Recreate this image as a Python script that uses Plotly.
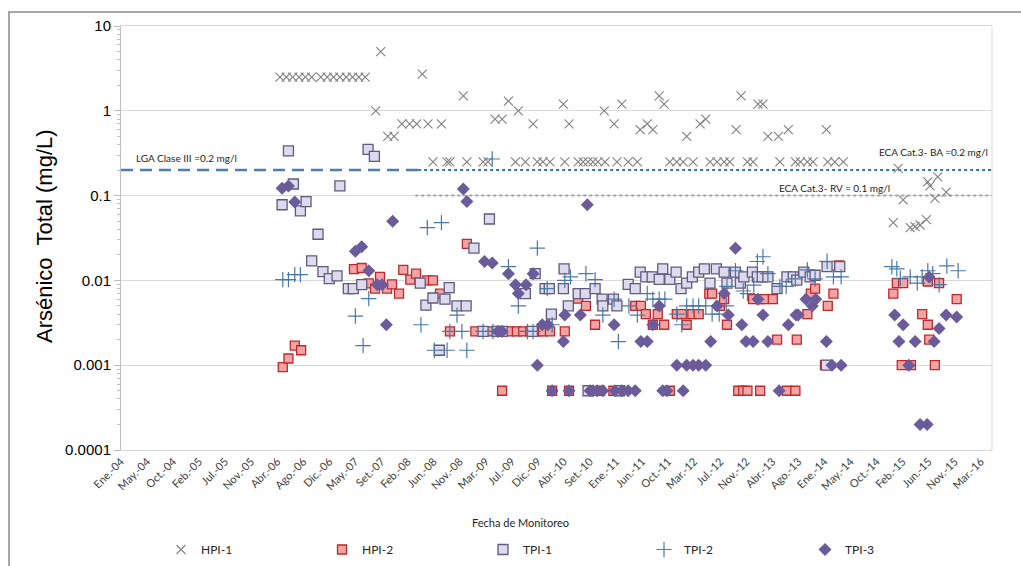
import pandas as pd
import plotly.graph_objects as go

# ---------------- data (dates as decimal years, values in mg/L) ----------------
hpi1_x = [2006.29, 2006.38, 2006.47, 2006.56, 2006.65, 2006.74, 2006.87, 2006.96, 2007.05, 2007.14,
          2007.23, 2007.32, 2007.41, 2007.50,
          2007.72, 2007.65, 2007.82, 2007.91,
          2008.02, 2008.13, 2008.23, 2008.39, 2008.58, 2008.31,
          2008.46, 2008.66, 2008.70, 2008.94, 2009.17, 2009.24, 2009.63, 2009.77, 2009.94, 2010.02,
          2010.12, 2010.33, 2010.52, 2010.59, 2010.66, 2010.73, 2010.80, 2010.90, 2011.07, 2011.23,
          2011.36, 2011.82, 2011.92, 2012.01, 2012.15, 2012.39, 2012.49, 2012.59, 2012.67, 2012.92,
          2013.00, 2013.38, 2013.60, 2013.67, 2013.77, 2013.85, 2014.06, 2014.16, 2014.28,
          2008.89, 2009.53, 2009.67, 2009.34, 2009.44, 2009.88, 2010.31, 2010.39, 2010.89, 2011.14,
          2011.03, 2011.40, 2011.50, 2011.58, 2011.67, 2011.74, 2012.06, 2012.25, 2012.33, 2012.76,
          2012.83, 2013.07, 2013.14, 2013.21, 2013.36, 2013.50, 2014.04,
          2014.99, 2015.06, 2015.13, 2015.23, 2015.30, 2015.37, 2015.46, 2015.48, 2015.51, 2015.58,
          2015.62, 2015.74]
hpi1_y = [2.5] * 14 + [5.0, 1.0, 0.5, 0.5,
          0.7, 0.7, 0.7, 0.7, 0.7, 2.7] + [0.25] * 39 + [
          1.5, 1.3, 1.0, 0.8, 0.8, 0.7, 1.2, 0.7, 1.0, 1.2,
          0.7, 0.6, 0.7, 0.6, 1.5, 1.2, 0.5, 0.7, 0.8, 0.6,
          1.5, 1.2, 1.2, 0.5, 0.5, 0.6, 0.6,
          0.048, 0.21, 0.089, 0.042, 0.043, 0.045, 0.052, 0.145, 0.13, 0.093,
          0.166, 0.11]

hpi2_x = [2006.33, 2006.41, 2006.50, 2006.59, 2007.34, 2007.45, 2007.55, 2007.64, 2007.71, 2007.81,
          2007.88, 2007.98, 2008.04, 2008.14, 2008.22, 2008.38, 2008.46, 2008.56, 2008.94,
          2008.70, 2009.06, 2009.17, 2009.27, 2009.37, 2009.45, 2009.55, 2009.65, 2009.74, 2009.84,
          2009.94, 2010.02, 2010.12, 2010.33,
          2009.44, 2010.15, 2010.39, 2010.52, 2010.63, 2010.76, 2010.83, 2011.02,
          2011.33, 2011.41, 2011.48, 2011.58, 2011.65, 2011.74, 2011.82, 2011.92, 2011.99, 2012.06,
          2012.14, 2012.23, 2012.38, 2012.42, 2012.53, 2012.59, 2012.63, 2012.79, 2012.86, 2012.92,
          2013.00, 2013.10, 2013.16, 2013.10, 2013.28, 2013.34, 2013.48, 2013.60, 2013.62, 2013.77,
          2013.82, 2013.88, 2014.02, 2014.06, 2014.14, 2014.22,
          2014.99, 2015.04, 2015.13, 2015.11, 2015.24, 2015.40, 2015.48, 2015.48, 2015.50, 2015.58,
          2015.64, 2015.89]
hpi2_y = [0.00095, 0.0012, 0.0017, 0.0015, 0.0136, 0.014, 0.0092, 0.008, 0.011, 0.008,
          0.009, 0.007, 0.0133, 0.0102, 0.012, 0.01, 0.01, 0.007, 0.027] + [0.0025] * 14 + [
          0.0005, 0.0005, 0.0005, 0.0061, 0.005, 0.003, 0.0005, 0.0005,
          0.005, 0.005, 0.004, 0.003, 0.004, 0.003, 0.0005, 0.004, 0.004, 0.003,
          0.004, 0.004, 0.007, 0.007, 0.005, 0.006, 0.003, 0.0005, 0.0005, 0.0005,
          0.006, 0.006, 0.006, 0.0005, 0.006, 0.002, 0.0005, 0.0005, 0.002, 0.004,
          0.007, 0.008, 0.001, 0.005, 0.007, 0.015,
          0.007, 0.0093, 0.0093, 0.001, 0.001, 0.004, 0.0097, 0.003, 0.002, 0.001,
          0.0093, 0.006]

tpi1_x = [2006.32, 2006.41, 2006.48, 2006.58, 2006.66, 2006.74, 2006.83, 2006.90, 2006.99, 2007.10,
          2007.14, 2007.26, 2007.33, 2007.45, 2007.54, 2007.63, 2008.28, 2008.36, 2008.46, 2008.55,
          2008.63, 2008.69, 2008.80, 2008.93, 2009.04, 2009.26, 2009.17, 2009.37, 2009.44, 2009.87,
          2009.91, 2009.77, 2010.05, 2010.11, 2010.14, 2010.31, 2010.32, 2010.38, 2010.52, 2010.62,
          2010.76, 2010.66, 2010.86, 2011.02, 2010.87, 2011.07, 2011.11, 2011.23, 2011.33, 2011.40,
          2011.48, 2011.57, 2011.67, 2011.72, 2011.82, 2011.91, 2011.98, 2012.06, 2012.14, 2012.23,
          2012.31, 2012.39, 2012.48, 2012.59, 2012.63, 2012.75, 2012.82, 2012.87, 2012.99, 2013.06,
          2013.13, 2013.21, 2013.34, 2013.48, 2013.57, 2013.62, 2013.72, 2013.81, 2013.88, 2014.04,
          2014.05, 2014.23]
tpi1_y = [0.078, 0.336, 0.137, 0.066, 0.085, 0.017, 0.035, 0.0127, 0.0105, 0.0113,
          0.13, 0.008, 0.008, 0.0089, 0.35, 0.29, 0.0093, 0.0051, 0.0062, 0.0015,
          0.006, 0.0082, 0.005, 0.005, 0.024, 0.053, 0.0025, 0.0025, 0.0025, 0.0025,
          0.012, 0.007, 0.008, 0.008, 0.004, 0.008, 0.0137, 0.005, 0.007, 0.007,
          0.008, 0.0005, 0.006, 0.006, 0.005, 0.005, 0.0005, 0.009, 0.008, 0.0125,
          0.011, 0.011, 0.0103, 0.0137, 0.0103, 0.0125, 0.008, 0.0093, 0.011, 0.0125,
          0.0137, 0.0093, 0.0137, 0.0125, 0.0093, 0.0125, 0.0093, 0.011, 0.0125, 0.011,
          0.011, 0.011, 0.008, 0.011, 0.011, 0.0101, 0.0125, 0.011, 0.0115, 0.001,
          0.0145, 0.0145]

tpi2_x = [2006.33, 2006.41, 2006.50, 2006.58, 2007.36, 2007.47, 2007.55, 2008.29, 2008.38, 2008.58,
          2008.48, 2008.66, 2008.70, 2008.80, 2008.87, 2008.94, 2009.17, 2009.30, 2009.31, 2009.53,
          2009.67, 2009.80, 2009.88, 2009.94, 2010.08, 2010.15, 2010.33, 2010.41, 2010.63, 2010.76,
          2010.87, 2011.03, 2011.09, 2011.24, 2011.36, 2011.50, 2011.58, 2011.67, 2011.75, 2011.92,
          2011.99, 2012.06, 2012.15, 2012.23, 2012.33, 2012.42, 2012.52, 2012.62, 2012.63, 2012.75,
          2012.86, 2012.92, 2013.01, 2013.06, 2013.14, 2013.21, 2013.38, 2013.47, 2013.60, 2013.77,
          2013.88, 2014.05, 2014.14, 2014.25,
          2014.97, 2015.04, 2015.09, 2015.23, 2015.33, 2015.40, 2015.48, 2015.55, 2015.64, 2015.75,
          2015.91]
tpi2_y = [0.0102, 0.0102, 0.0117, 0.0117, 0.0038, 0.0017, 0.0061, 0.003, 0.042, 0.048,
          0.0015, 0.0015, 0.0025, 0.0039, 0.0025, 0.0015, 0.0025, 0.27, 0.0025, 0.0145,
          0.005, 0.0025, 0.0025, 0.024, 0.008, 0.003, 0.01, 0.011, 0.012, 0.0102,
          0.0039, 0.006, 0.0019, 0.005, 0.0039, 0.007, 0.006, 0.006, 0.006, 0.004,
          0.003, 0.005, 0.005, 0.005, 0.005, 0.004, 0.004, 0.005, 0.0085, 0.013,
          0.0075, 0.007, 0.0088, 0.0167, 0.019, 0.012, 0.0085, 0.0085, 0.0104, 0.0133,
          0.0104, 0.0168, 0.011, 0.011,
          0.0145, 0.0137, 0.0106, 0.011, 0.0093, 0.011, 0.013, 0.012, 0.0089, 0.0148,
          0.013]

tpi3_x = [2006.32, 2006.41, 2006.50, 2007.36, 2007.45, 2007.55, 2007.67, 2007.74, 2007.80, 2007.89,
          2008.89, 2008.94, 2009.19, 2009.30, 2009.38, 2009.44, 2009.53, 2009.63, 2009.67, 2009.78,
          2009.88, 2009.94, 2010.01, 2010.09, 2010.15, 2010.31, 2010.33, 2010.39, 2010.55, 2010.65,
          2010.69, 2010.73, 2010.79, 2010.87, 2011.03, 2011.04, 2011.14, 2011.23, 2011.33, 2011.41,
          2011.50, 2011.58, 2011.67, 2011.72, 2011.78, 2011.92, 2012.01, 2012.06, 2012.15, 2012.23,
          2012.33, 2012.40, 2012.49, 2012.59, 2012.65, 2012.75, 2012.84, 2012.90, 2013.00, 2013.07,
          2013.14, 2013.21, 2013.37, 2013.50, 2013.61, 2013.64, 2013.75, 2013.84, 2013.89, 2014.04,
          2014.12, 2014.25,
          2015.01, 2015.07, 2015.13, 2015.21, 2015.30, 2015.37, 2015.47, 2015.50, 2015.57, 2015.64,
          2015.74, 2015.89]
tpi3_y = [0.122, 0.13, 0.084, 0.022, 0.025, 0.013, 0.0089, 0.0089, 0.003, 0.05,
          0.12, 0.085, 0.0167, 0.016, 0.0025, 0.0025, 0.012, 0.0089, 0.007, 0.0089,
          0.012, 0.001, 0.003, 0.003, 0.0005, 0.0019, 0.0039, 0.0005, 0.0039, 0.078,
          0.0005, 0.0005, 0.0005, 0.0005, 0.003, 0.0005, 0.0005, 0.0005, 0.0005, 0.0019,
          0.0019, 0.003, 0.005, 0.0005, 0.0005, 0.001, 0.0005, 0.001, 0.001, 0.001,
          0.001, 0.0019, 0.005, 0.007, 0.0039, 0.024, 0.003, 0.0019, 0.0019, 0.006,
          0.0039, 0.0019, 0.0005, 0.003, 0.0039, 0.0039, 0.006, 0.005, 0.006, 0.0019,
          0.001, 0.001,
          0.0039, 0.0019, 0.003, 0.001, 0.0019, 0.0002, 0.0002, 0.011, 0.0019, 0.0027,
          0.0039, 0.0037]

tick_labels = ["Ene.-04", "May.-04", "Oct.-04", "Feb.-05", "Jul.-05", "Nov.-05", "Abr.-06", "Ago.-06",
               "Dic.-06", "May.-07", "Set.-07", "Feb.-08", "Jun.-08", "Nov.-08", "Mar.-09", "Jul.-09",
               "Dic.-09", "Abr.-10", "Set.-10", "Ene.-11", "Jun.-11", "Oct.-11", "Mar.-12", "Jul.-12",
               "Nov.-12", "Abr.-13", "Ago.-13", "Ene.-14", "May.-14", "Oct.-14", "Feb.-15", "Jun.-15",
               "Nov.-15", "Mar.-16"]
y_ticks = [10, 1, 0.1, 0.01, 0.001, 0.0001]
y_tick_text = ["10", "1", "0.1", "0.01", "0.001", "0.0001"]

# reference limits
lga_value, lga_end = 0.2, 2008.25
eca_ba_value, eca_ba_start = 0.2, 2008.25
eca_rv_value, eca_rv_start = 0.1, 2008.21
x_start, x_end = 2004.036, 2016.39


def to_date(v):
    y = int(v)
    s = pd.Timestamp(year=y, month=1, day=1)
    n = (pd.Timestamp(year=y + 1, month=1, day=1) - s).days
    return s + pd.Timedelta(days=(v - y) * n)


def dates(lst):
    return [to_date(v) for v in lst]


tick_vals = pd.date_range("2004-01-14", periods=len(tick_labels), freq="135D")

fig = go.Figure()

# reference lines
fig.add_trace(go.Scatter(x=dates([x_start, lga_end]), y=[lga_value] * 2, mode="lines",
                         line=dict(color="#4a7ebb", width=2.5, dash="12px,7px"),
                         showlegend=False, hoverinfo="skip"))
fig.add_trace(go.Scatter(x=dates([eca_ba_start, x_end]), y=[eca_ba_value] * 2, mode="lines",
                         line=dict(color="#2f7aa6", width=2, dash="dot"),
                         showlegend=False, hoverinfo="skip"))
fig.add_trace(go.Scatter(x=dates([eca_rv_start, x_end]), y=[eca_rv_value] * 2, mode="lines",
                         line=dict(color="#a6a6a6", width=2, dash="dot"),
                         showlegend=False, hoverinfo="skip"))

fig.add_trace(go.Scatter(x=dates(hpi1_x), y=hpi1_y, mode="markers", name="HPI-1",
                         marker=dict(symbol="x-thin", size=9, color="#808080",
                                     line=dict(color="#808080", width=1.1))))
fig.add_trace(go.Scatter(x=dates(hpi2_x), y=hpi2_y, mode="markers", name="HPI-2",
                         marker=dict(symbol="square", size=9, color="#f3a3a3",
                                     line=dict(color="#c0282d", width=1.3))))
fig.add_trace(go.Scatter(x=dates(tpi1_x), y=tpi1_y, mode="markers", name="TPI-1",
                         marker=dict(symbol="square", size=10, color="#dddaee",
                                     line=dict(color="#5f5a7e", width=1.3))))
fig.add_trace(go.Scatter(x=dates(tpi2_x), y=tpi2_y, mode="markers", name="TPI-2",
                         marker=dict(symbol="cross-thin", size=11, color="#4a78a8",
                                     line=dict(color="#4a78a8", width=1.2))))
fig.add_trace(go.Scatter(x=dates(tpi3_x), y=tpi3_y, mode="markers", name="TPI-3",
                         marker=dict(symbol="diamond", size=10, color="#6b5b9b",
                                     line=dict(width=0))))

W, H = 1021, 566
L, R, T, B = 121, 992, 26, 450
pw, ph = R - L, B - T


def px(x):
    return (x - L) / pw


def py(y):
    return (B - y) / ph


calibri = "Lato, Carlito, Calibri, sans-serif"
arial = "Liberation Sans, Arial, sans-serif"

fig.update_layout(
    width=W, height=H,
    margin=dict(l=L, r=W - R, t=T, b=H - B, autoexpand=False),
    paper_bgcolor="white", plot_bgcolor="white",
    showlegend=True,
    legend=dict(orientation="h", x=px(161), y=py(535), xanchor="left", yanchor="top",
                entrywidth=116, entrywidthmode="pixels", itemwidth=30,
                font=dict(family=calibri, size=12, color="#262626"), bgcolor="rgba(0,0,0,0)"),
    xaxis=dict(type="date", range=[to_date(x_start), to_date(x_end)], automargin=False,
               tickmode="array", tickvals=tick_vals, ticktext=tick_labels, tickangle=-45,
               tickfont=dict(family=calibri, size=11, color="#404040"),
               showgrid=False, zeroline=False, ticks="",
               showline=True, linecolor="#d9d9d9", linewidth=1, mirror=True),
    yaxis=dict(type="log", range=[-4, 1], tickmode="array", tickvals=y_ticks, ticktext=y_tick_text,
               automargin=False,
               tickfont=dict(family=arial, size=15, color="#000000"),
               showgrid=True, gridcolor="#d9d9d9", gridwidth=1, zeroline=False,
               ticks="outside", ticklen=6, tickcolor="#bfbfbf",
               minor=dict(ticks="outside", ticklen=3, tickcolor="#bfbfbf", dtick="D1", showgrid=False),
               showline=True, linecolor="#bfbfbf", linewidth=1),
    shapes=[
        dict(type="rect", xref="paper", yref="paper", x0=px(9), x1=px(1040), y0=py(12), y1=py(600),
             line=dict(color="#a6a6a6", width=2), fillcolor="rgba(0,0,0,0)", layer="below"),
        dict(type="line", xref="paper", yref="paper", x0=1, x1=1, y0=0, y1=1,
             line=dict(color="#d9d9d9", width=1)),
    ],
    annotations=[
        dict(text="Arsénico  Total (mg/L)", xref="paper", yref="paper", x=px(45), y=py(236),
             xanchor="center", yanchor="middle",
             textangle=-90, showarrow=False, font=dict(family=arial, size=22, color="#000000")),
        dict(text="Fecha de Monitoreo", xref="paper", yref="paper", x=px(520), y=py(522),
             xanchor="center", yanchor="middle",
             showarrow=False, font=dict(family=calibri, size=11, color="#262626")),
        dict(text="LGA Clase III =0.2 mg/l", xref="paper", yref="paper", x=px(134), y=py(158),
             xanchor="left", yanchor="middle",
             showarrow=False, font=dict(family=calibri, size=10, color="#262626")),
        dict(text="ECA Cat.3- BA =0.2 mg/l", xref="paper", yref="paper", x=px(990), y=py(152),
             xanchor="right", yanchor="middle",
             showarrow=False, font=dict(family=calibri, size=10, color="#262626")),
        dict(text="ECA Cat.3- RV = 0.1 mg/l", xref="paper", yref="paper", x=px(834), y=py(188),
             xanchor="center", yanchor="middle",
             showarrow=False, font=dict(family=calibri, size=10, color="#262626")),
    ],
)

fig.write_html("out.html", config={"displayModeBar": False},
               post_script="document.body.style.margin='0px';")
